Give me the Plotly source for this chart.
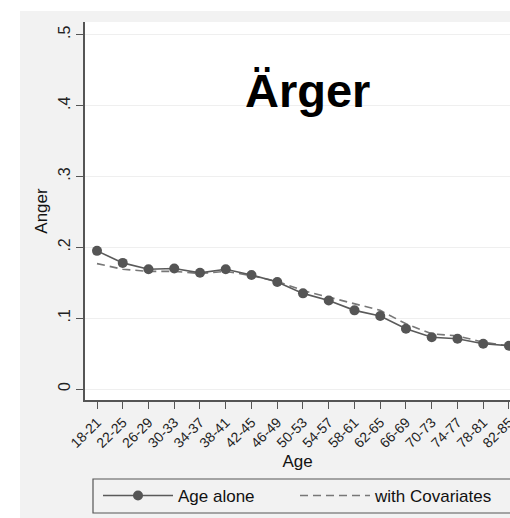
import plotly.graph_objects as go

categories = ["18-21", "22-25", "26-29", "30-33", "34-37", "38-41", "42-45", "46-49",
              "50-53", "54-57", "58-61", "62-65", "66-69", "70-73", "74-77", "78-81", "82-85"]
age_alone = [0.195, 0.178, 0.169, 0.170, 0.164, 0.169, 0.161, 0.151,
             0.135, 0.125, 0.111, 0.103, 0.085, 0.073, 0.071, 0.064, 0.061]
with_covariates = [0.177, 0.169, 0.166, 0.166, 0.163, 0.166, 0.160, 0.152,
                   0.139, 0.130, 0.120, 0.111, 0.092, 0.078, 0.075, 0.066, 0.061]
y_ticks = [0, 0.1, 0.2, 0.3, 0.4, 0.5]
y_tick_labels = ["0", ".1", ".2", ".3", ".4", ".5"]

W, H = 510, 518
L, R, T, B = 85, 0, 22, 118
pw, ph = W - L - R, H - T - B

def px_x(p):
    return (p - L) / pw

def px_y(p):
    return (H - B - p) / ph

xi = list(range(len(categories)))

fig = go.Figure()
fig.add_trace(go.Scatter(
    x=xi, y=with_covariates, mode="lines", name="with Covariates",
    line=dict(color="#777777", width=1.6, dash="8px,5px"),
))
fig.add_trace(go.Scatter(
    x=xi, y=age_alone, mode="lines+markers", name="Age alone",
    line=dict(color="#5a5a5a", width=1.6),
    marker=dict(color="#555555", size=10),
))

font_family = "Liberation Sans, Arial, sans-serif"

fig.update_layout(
    width=W, height=H,
    margin=dict(l=L, r=R, t=T, b=B, pad=0, autoexpand=False),
    paper_bgcolor="#f2f2f2",
    plot_bgcolor="white",
    font=dict(family=font_family, color="#111111"),
    showlegend=True,
    legend=dict(
        orientation="h", x=px_x(98), xanchor="left", y=px_y(496), yanchor="middle",
        bgcolor="rgba(0,0,0,0)", borderwidth=0, traceorder="reversed",
        font=dict(size=17, color="#111111"), itemwidth=70,
        entrywidth=112, entrywidthmode="pixels",
    ),
    xaxis=dict(
        range=[-0.466, 16.04], tickmode="array", tickvals=xi, ticktext=categories,
        tickangle=-45, tickfont=dict(size=14, color="#222222"),
        ticklabeloverflow="allow", automargin=False,
        showline=True, linecolor="#555555", linewidth=1.5,
        ticks="outside", ticklen=7, tickcolor="#555555",
        showgrid=False, zeroline=False,
        title=dict(text="Age", font=dict(size=17, color="#111111"), standoff=5),
    ),
    yaxis=dict(
        range=[-0.0155, 0.518], tickmode="array", tickvals=y_ticks, ticktext=y_tick_labels,
        tickangle=-90, tickfont=dict(size=16, color="#222222"), automargin=False,
        showline=True, linecolor="#555555", linewidth=1.5,
        ticks="outside", ticklen=7, tickcolor="#555555",
        showgrid=True, gridcolor="#efefef", gridwidth=1, zeroline=False,
        title=dict(text="Anger", font=dict(size=17, color="#111111"), standoff=4),
    ),
    shapes=[
        dict(type="rect", xref="paper", yref="paper", layer="below",
             x0=px_x(-5), x1=px_x(20), y0=px_y(530), y1=px_y(-5),
             fillcolor="white", line=dict(width=0)),
        dict(type="rect", xref="paper", yref="paper", layer="below",
             x0=px_x(-5), x1=px_x(520), y0=px_y(11), y1=px_y(-5),
             fillcolor="white", line=dict(width=0)),
        dict(type="rect", xref="paper", yref="paper", layer="above",
             x0=px_x(93), x1=px_x(530), y0=px_y(513), y1=px_y(479),
             fillcolor="rgba(0,0,0,0)", line=dict(color="#555555", width=1.2)),
    ],
    annotations=[
        dict(text="<b>Ärger</b>", xref="paper", yref="paper",
             x=px_x(307), y=px_y(90), xanchor="center", yanchor="middle",
             showarrow=False, font=dict(size=47, color="black", family=font_family)),
    ],
)

fig.write_html("out.html")
